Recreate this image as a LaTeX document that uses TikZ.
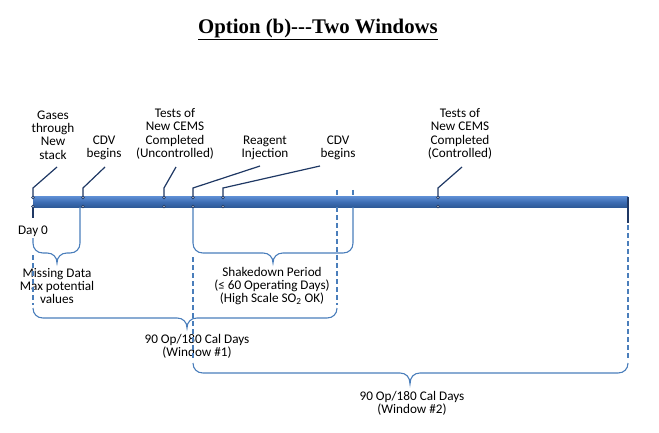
\documentclass[tikz,border=0pt]{standalone}
\usepackage{fontspec}
\setmainfont{Carlito}
\newfontfamily\titlefont{Liberation Serif}
\definecolor{navy}{HTML}{1F3864}
\definecolor{braceblue}{HTML}{4A7EBB}
\definecolor{bartop}{HTML}{5A8AD0}
\definecolor{barmid}{HTML}{3D6DB3}
\definecolor{barbot}{HTML}{2E5A99}
\newcommand{\mybrace}[5]{(#1,#3-10) .. controls (#1,#3-4) and (#1+4,#3) .. (#1+10,#3) -- (#4-10,#3) .. controls (#4-4,#3) and (#4,#3+4) .. (#4,#5) .. controls (#4,#3+4) and (#4+4,#3) .. (#4+10,#3) -- (#2-10,#3) .. controls (#2-4,#3) and (#2,#3-4) .. (#2,#3-10)}
\begin{document}
\begin{tikzpicture}[x=1pt,y=-1pt,
  lbl/.style={align=center, inner sep=0pt, font=\fontsize{13.2}{13.3}\selectfont},
  callout/.style={draw=navy, line width=1.2pt},
  bracestyle/.style={draw=braceblue, line width=1.1pt},
  dsh/.style={bracestyle, dash pattern=on 5pt off 3pt},
  marker/.style={draw=navy, fill=white, line width=0.6pt}]
\useasboundingbox (0,0) rectangle (659,433);
% title
\node[inner sep=0pt] (title) at (318,29) {\titlefont\bfseries\fontsize{20.8}{24}\selectfont \underline{Option (b)-{}-{}-Two Windows}};
% dashed ticks above bar
\draw[dsh] (337,190) -- (337,198);
\draw[dsh] (353,190) -- (353,198);
% bar
\shade[top color=bartop, bottom color=barbot, middle color=barmid] (33,197) rectangle (628,207);
\draw[navy, line width=1.5pt] (628,197) -- (628,223);
% event points
\coordinate (e1) at (33,197);
\coordinate (e2) at (83,197);
\coordinate (e3) at (164,197);
\coordinate (e4) at (193,197);
\coordinate (e5) at (223,197);
\coordinate (e6) at (438,197);
% callout ends
\coordinate (c1) at (57,167);
\coordinate (c2) at (105,167);
\coordinate (c3) at (176,167);
\coordinate (c4) at (260,166);
\coordinate (c5) at (320,166);
\coordinate (c6) at (462,167);
\foreach \i in {1,...,6} {
  \draw[callout] (e\i) -- ++(0,-9) -- (c\i);
}
% labels above
\node[lbl] (L1) at (53,135) {Gases\\through\\New\\stack};
\node[lbl] (L2) at (104,148) {CDV\\begins};
\node[lbl] (L3) at (175,134) {Tests of\\New CEMS\\Completed\\(Uncontrolled)};
\node[lbl] (L4) at (265,148) {Reagent\\Injection};
\node[lbl] (L5) at (338,148) {CDV\\begins};
\node[lbl] (L6) at (460,134) {Tests of\\New CEMS\\Completed\\(Controlled)};
% Day 0
\draw[navy, line width=1.1pt] (33,207) -- (33,218);
\node[lbl] (day0) at (33,231) {Day 0};
% missing data brace
\draw[bracestyle] (33,238) -- \mybrace{33}{80}{253}{57}{263} -- (80,207);
\node[lbl] (md) at (57,286) {Missing Data\\Max potential\\values};
% shakedown brace
\draw[bracestyle] (193,207) -- \mybrace{193}{353}{253}{273}{263} -- (353,207);
\node[lbl] (sd) at (272,286) {Shakedown Period\\(≤ 60 Operating Days)\\(High Scale SO\textsubscript{2} OK)};
% window 1
\draw[dsh] (33,255) -- (33,305);
\draw[dsh] (337,207) -- (337,305);
\draw[bracestyle] \mybrace{33}{337}{318}{187}{328};
\node[lbl] (w1) at (197,346) {90 Op/180 Cal Days\\(Window \#1)};
% window 2
\draw[dsh] (193,257) -- (193,360);
\draw[dsh] (628,225) -- (628,360);
\draw[bracestyle] \mybrace{193}{628}{373}{410}{384};
\node[lbl] (w2) at (412,403) {90 Op/180 Cal Days\\(Window \#2)};
% markers on bar
\foreach \x in {33,83,164,193,223,438} {
  \draw[marker] (\x,197.5) circle (1.4);
  \draw[marker] (\x,206.5) circle (1.4);
}
\end{tikzpicture}
\end{document}
